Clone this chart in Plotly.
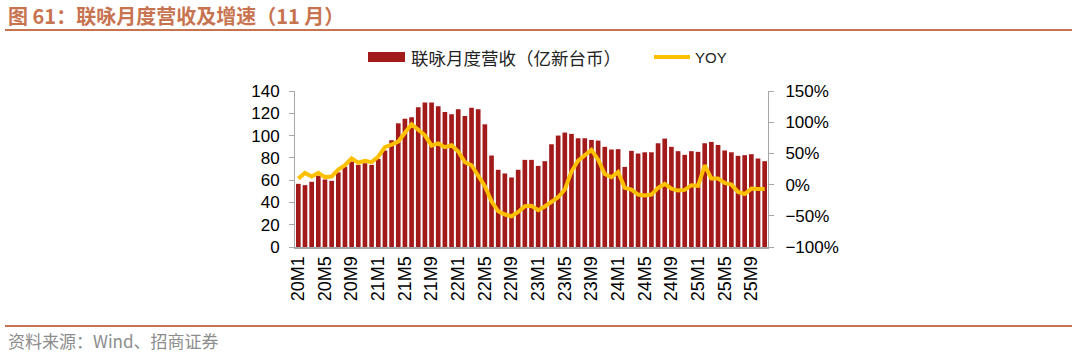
import plotly.graph_objects as go

months = [f"{y}M{m}" for y in range(20, 26) for m in range(1, 13)][:71]

revenue = [56.7, 55.5, 58.5, 64.0, 60.6, 59.4, 67.0, 72.0, 76.7, 73.7,
           75.2, 73.7, 79.0, 86.6, 95.8, 111.0, 115.0, 116.4, 125.4, 129.6,
           129.6, 126.3, 121.2, 119.1, 123.6, 117.6, 125.0, 123.6, 110.1, 82.1,
           69.3, 66.0, 62.4, 69.3, 78.2, 78.2, 72.8, 77.0, 92.2, 100.0,
           102.7, 101.5, 97.6, 97.6, 96.1, 95.5, 89.9, 87.5, 87.8, 71.9,
           86.3, 83.9, 85.0, 85.0, 93.1, 97.3, 89.9, 86.0, 82.7, 86.0,
           85.4, 93.1, 94.3, 91.6, 86.6, 85.0, 81.8, 82.4, 83.3, 79.4,
           77.0]

yoy = [9.6, 18.7, 13.0, 18.7, 12.0, 13.0, 24.0, 31.0, 42.0, 35.0,
       38.0, 36.0, 45.0, 60.0, 64.0, 69.0, 83.0, 96.5, 88.0, 79.0,
       62.5, 66.0, 60.0, 63.0, 53.0, 36.0, 31.0, 13.0, -2.7, -26.7,
       -42.7, -48.0, -50.7, -43.8, -34.7, -34.0, -41.0, -35.0, -26.7, -20.3,
       -8.0, 21.0, 38.5, 48.0, 55.6, 40.0, 17.0, 11.8, 20.3, -5.3,
       -8.0, -16.0, -17.6, -16.0, -5.3, 1.0, -6.4, -9.6, -8.5, -1.0,
       -2.0, 31.0, 9.6, 9.6, 2.7, 0.0, -11.8, -15.0, -6.4, -7.0,
       -7.0]

tick_labels = months[::4]

title_text = "图 61：联咏月度营收及增速（11 月）"
bar_name = "联咏月度营收（亿新台币）"
line_name = "YOY"
source_text = "资料来源：Wind、招商证券"

BAR = "#A31A1A"
LINE = "#FFC000"
ACCENT = "#C8734F"
AXIS = "#A6A6A6"
NUM_FONT = "Liberation Sans, Arial, sans-serif"
CJK_FONT = "Noto Sans CJK SC, sans-serif"

W, H = 1077, 354
L, R, T, B = 295, 768, 91, 247
pw, ph = R - L, B - T


def px(x):
    return (x - L) / pw


def py(y):
    return (B - y) / ph


fig = go.Figure()
fig.add_trace(go.Bar(x=months, y=revenue, name=bar_name, marker_color=BAR,
                     marker_line_width=0, yaxis="y", showlegend=False))
fig.add_trace(go.Scatter(x=months, y=yoy, name=line_name, mode="lines",
                         line=dict(color=LINE, width=4, shape="linear"),
                         yaxis="y2", showlegend=False))

shapes = [
    dict(type="line", xref="paper", yref="paper", x0=px(5), x1=px(1072),
         y0=py(30), y1=py(30), line=dict(color=ACCENT, width=2)),
    dict(type="line", xref="paper", yref="paper", x0=px(5), x1=px(1072),
         y0=py(326), y1=py(326), line=dict(color=ACCENT, width=2)),
    # custom legend swatches
    dict(type="rect", xref="paper", yref="paper", x0=px(368), x1=px(405),
         y0=py(62), y1=py(52), fillcolor=BAR, line_width=0),
    dict(type="line", xref="paper", yref="paper", x0=px(654), x1=px(690),
         y0=py(57), y1=py(57), line=dict(color=LINE, width=4)),
]

annotations = [
    dict(text=f"<b>{title_text}</b>", xref="paper", yref="paper", x=px(6), y=py(16),
         xanchor="left", yanchor="middle", showarrow=False,
         font=dict(family=CJK_FONT, size=20, color=ACCENT)),
    dict(text=bar_name, xref="paper", yref="paper", x=px(409), y=py(57),
         xanchor="left", yanchor="middle", showarrow=False,
         font=dict(family=CJK_FONT, size=17.5, color="#222222")),
    dict(text=line_name, xref="paper", yref="paper", x=px(693), y=py(57),
         xanchor="left", yanchor="middle", showarrow=False,
         font=dict(family=NUM_FONT, size=15, color="#222222")),
    dict(text=source_text, xref="paper", yref="paper", x=px(6), y=py(340),
         xanchor="left", yanchor="middle", showarrow=False,
         font=dict(family=CJK_FONT, size=17, color="#8C8C8C")),
]

fig.update_layout(
    width=W, height=H,
    margin=dict(l=L, r=W - R, t=T, b=H - B, pad=0),
    paper_bgcolor="white", plot_bgcolor="white",
    bargap=0.3,
    font=dict(family=NUM_FONT, size=17, color="#000000"),
    xaxis=dict(type="category", tickmode="array", tickvals=tick_labels,
               ticktext=tick_labels, tickangle=-90, showgrid=False,
               showline=True, linecolor=AXIS, linewidth=2, ticks="",
               tickfont=dict(size=18), zeroline=False, range=[-0.5, 70.5]),
    yaxis=dict(range=[0, 140], dtick=20, showgrid=False, showline=True,
               linecolor=AXIS, linewidth=1, ticks="outside", ticklen=5,
               tickcolor=AXIS, zeroline=False, tickfont=dict(size=17),
               ticklabelstandoff=6),
    yaxis2=dict(range=[-100, 150], dtick=50, overlaying="y", side="right",
                showgrid=False, showline=True, linecolor=AXIS, linewidth=1,
                ticks="outside", ticklen=5, tickcolor=AXIS, zeroline=False,
                ticksuffix="%", tickfont=dict(size=17), ticklabelstandoff=8),
    shapes=shapes,
    annotations=annotations,
    showlegend=False,
)

fig.write_html("out.html")
